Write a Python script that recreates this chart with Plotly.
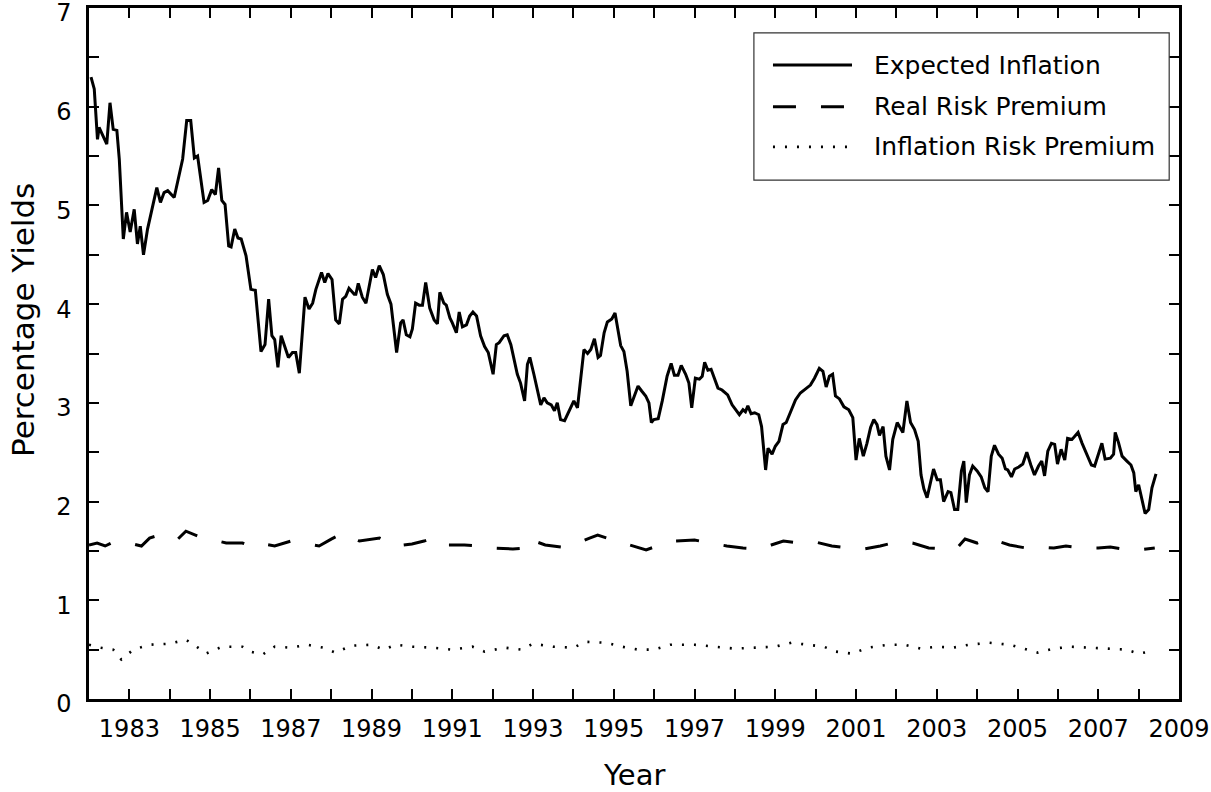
import plotly.graph_objects as go

# Expected inflation (decimal year, percent)
ei_year = [
    1982.05, 1982.13, 1982.21, 1982.25, 1982.44, 1982.52, 1982.60, 1982.69, 1982.75, 1982.85,
    1982.93, 1983.02, 1983.12, 1983.20, 1983.27, 1983.35, 1983.45, 1983.58, 1983.68, 1983.77,
    1983.86, 1983.95, 1984.11, 1984.32, 1984.42, 1984.52, 1984.61, 1984.69, 1984.85, 1984.94,
    1985.04, 1985.13, 1985.21, 1985.29, 1985.37, 1985.46, 1985.52, 1985.61, 1985.69, 1985.77,
    1985.89, 1986.01, 1986.12, 1986.26, 1986.36, 1986.45, 1986.53, 1986.60, 1986.68, 1986.76,
    1986.88, 1986.94, 1987.04, 1987.12, 1987.21, 1987.35, 1987.45, 1987.54, 1987.62, 1987.76,
    1987.84, 1987.92, 1988.02, 1988.11, 1988.20, 1988.28, 1988.36, 1988.44, 1988.57, 1988.61,
    1988.67, 1988.77, 1988.86, 1989.02, 1989.10, 1989.19, 1989.29, 1989.39, 1989.48, 1989.62,
    1989.72, 1989.78, 1989.86, 1989.95, 1990.01, 1990.09, 1990.18, 1990.26, 1990.34, 1990.44,
    1990.55, 1990.63, 1990.69, 1990.79, 1990.85, 1990.94, 1991.00, 1991.10, 1991.17, 1991.25,
    1991.35, 1991.43, 1991.51, 1991.60, 1991.70, 1991.80, 1991.89, 1992.01, 1992.09, 1992.16,
    1992.28, 1992.36, 1992.45, 1992.61, 1992.69, 1992.79, 1992.86, 1992.92, 1993.02, 1993.19,
    1993.27, 1993.35, 1993.45, 1993.53, 1993.60, 1993.68, 1993.78, 1993.89, 1994.01, 1994.10,
    1994.18, 1994.26, 1994.35, 1994.43, 1994.52, 1994.61, 1994.67, 1994.76, 1994.84, 1994.95,
    1995.03, 1995.11, 1995.17, 1995.25, 1995.33, 1995.42, 1995.50, 1995.60, 1995.69, 1995.79,
    1995.87, 1995.93, 1995.99, 1996.10, 1996.20, 1996.32, 1996.42, 1996.50, 1996.59, 1996.67,
    1996.78, 1996.86, 1996.93, 1997.02, 1997.12, 1997.19, 1997.25, 1997.33, 1997.41, 1997.48,
    1997.58, 1997.68, 1997.82, 1997.93, 1998.01, 1998.11, 1998.20, 1998.26, 1998.32, 1998.40,
    1998.49, 1998.59, 1998.66, 1998.76, 1998.82, 1998.92, 1999.00, 1999.09, 1999.19, 1999.27,
    1999.38, 1999.50, 1999.62, 1999.75, 1999.87, 1999.97, 2000.09, 2000.18, 2000.26, 2000.34,
    2000.42, 2000.49, 2000.59, 2000.70, 2000.82, 2000.92, 2001.00, 2001.08, 2001.18, 2001.27,
    2001.36, 2001.44, 2001.52, 2001.58, 2001.67, 2001.74, 2001.83, 2001.91, 2002.02, 2002.16,
    2002.26, 2002.35, 2002.45, 2002.54, 2002.61, 2002.68, 2002.76, 2002.92, 2003.01, 2003.09,
    2003.17, 2003.28, 2003.35, 2003.44, 2003.52, 2003.61, 2003.67, 2003.73, 2003.81, 2003.89,
    2004.00, 2004.10, 2004.19, 2004.27, 2004.35, 2004.43, 2004.53, 2004.62, 2004.70, 2004.76,
    2004.85, 2004.93, 2005.03, 2005.13, 2005.23, 2005.33, 2005.42, 2005.52, 2005.60, 2005.67,
    2005.75, 2005.84, 2005.92, 2005.99, 2006.08, 2006.17, 2006.24, 2006.35, 2006.50, 2006.60,
    2006.72, 2006.83, 2006.91, 2007.09, 2007.17, 2007.30, 2007.38, 2007.42, 2007.50, 2007.59,
    2007.71, 2007.81, 2007.88, 2007.93, 2008.00, 2008.16, 2008.25, 2008.33, 2008.43,
]
ei_value = [
    6.30, 6.18, 5.67, 5.79, 5.62, 6.04, 5.77, 5.76, 5.47, 4.66,
    4.93, 4.73, 4.96, 4.61, 4.79, 4.50, 4.76, 4.99, 5.18, 5.03,
    5.13, 5.15, 5.08, 5.47, 5.86, 5.86, 5.48, 5.50, 5.03, 5.05,
    5.16, 5.11, 5.38, 5.05, 5.01, 4.59, 4.58, 4.76, 4.67, 4.66,
    4.49, 4.15, 4.14, 3.52, 3.59, 4.05, 3.68, 3.64, 3.36, 3.68,
    3.54, 3.46, 3.51, 3.51, 3.30, 4.07, 3.95, 4.01, 4.15, 4.32,
    4.22, 4.31, 4.25, 3.84, 3.80, 4.05, 4.08, 4.16, 4.10, 4.10,
    4.21, 4.07, 4.01, 4.35, 4.27, 4.39, 4.30, 4.10, 4.00, 3.51,
    3.81, 3.84, 3.69, 3.67, 3.75, 4.01, 3.99, 3.99, 4.22, 3.96,
    3.84, 3.80, 4.12, 4.01, 3.99, 3.86, 3.81, 3.71, 3.92, 3.77,
    3.79, 3.88, 3.92, 3.88, 3.68, 3.57, 3.51, 3.29, 3.59, 3.61,
    3.68, 3.69, 3.59, 3.29, 3.20, 3.02, 3.39, 3.46, 3.29, 2.98,
    3.05, 3.00, 2.98, 2.92, 3.00, 2.83, 2.82, 2.91, 3.02, 2.95,
    3.24, 3.54, 3.50, 3.54, 3.65, 3.46, 3.48, 3.71, 3.82, 3.85,
    3.91, 3.74, 3.58, 3.52, 3.32, 2.97, 3.05, 3.17, 3.12, 3.07,
    3.00, 2.80, 2.83, 2.84, 3.02, 3.27, 3.40, 3.28, 3.28, 3.38,
    3.29, 3.20, 2.95, 3.25, 3.24, 3.27, 3.41, 3.33, 3.34, 3.27,
    3.15, 3.13, 3.08, 2.98, 2.93, 2.88, 2.93, 2.91, 2.97, 2.89,
    2.90, 2.88, 2.76, 2.32, 2.54, 2.48, 2.56, 2.61, 2.78, 2.80,
    2.91, 3.03, 3.10, 3.14, 3.18, 3.25, 3.35, 3.32, 3.16, 3.27,
    3.29, 3.07, 3.04, 2.96, 2.93, 2.85, 2.42, 2.64, 2.46, 2.59,
    2.75, 2.83, 2.78, 2.67, 2.76, 2.46, 2.32, 2.63, 2.80, 2.70,
    3.02, 2.80, 2.73, 2.61, 2.27, 2.13, 2.04, 2.33, 2.22, 2.22,
    2.00, 2.10, 2.09, 1.92, 1.92, 2.31, 2.41, 1.99, 2.27, 2.36,
    2.31, 2.25, 2.14, 2.10, 2.46, 2.57, 2.48, 2.44, 2.33, 2.32,
    2.25, 2.33, 2.35, 2.38, 2.50, 2.37, 2.27, 2.36, 2.41, 2.26,
    2.51, 2.59, 2.58, 2.38, 2.53, 2.42, 2.64, 2.63, 2.70, 2.59,
    2.48, 2.37, 2.36, 2.59, 2.43, 2.44, 2.48, 2.70, 2.60, 2.46,
    2.41, 2.37, 2.29, 2.10, 2.17, 1.88, 1.92, 2.14, 2.28,
]

# Real risk premium
rrp_year = [
    1982.0, 1982.2, 1982.4, 1982.6, 1983.0, 1983.3, 1983.5, 1983.8, 1984.2, 1984.4,
    1984.7, 1985.0, 1985.4, 1985.8, 1986.0, 1986.2, 1986.6, 1987.0, 1987.4, 1987.7,
    1988.0, 1988.3, 1988.7, 1989.0, 1989.2, 1989.6, 1990.0, 1990.3, 1990.5, 1990.8,
    1991.3, 1991.7, 1992.0, 1992.5, 1992.8, 1992.9, 1993.3, 1993.7, 1994.0, 1994.4,
    1994.6, 1994.9, 1995.4, 1995.8, 1996.2, 1996.5, 1997.0, 1997.4, 1997.8, 1998.2,
    1998.6, 1998.9, 1999.2, 1999.6, 2000.0, 2000.4, 2000.8, 2001.2, 2001.6, 2002.0,
    2002.4, 2002.8, 2003.2, 2003.5, 2003.7, 2004.0, 2004.3, 2004.8, 2005.2, 2005.5,
    2005.9, 2006.2, 2006.6, 2007.0, 2007.3, 2007.6, 2008.0, 2008.4,
]
rrp_value = [
    1.56, 1.58, 1.55, 1.59, 1.58, 1.55, 1.63, 1.67, 1.62, 1.70,
    1.65, 1.62, 1.58, 1.58, 1.55, 1.58, 1.55, 1.60, 1.57, 1.55,
    1.62, 1.68, 1.60, 1.62, 1.63, 1.55, 1.57, 1.60, 1.63, 1.56,
    1.56, 1.55, 1.53, 1.52, 1.53, 1.62, 1.56, 1.54, 1.56, 1.63,
    1.66, 1.62, 1.56, 1.51, 1.57, 1.60, 1.61, 1.58, 1.55, 1.53,
    1.52, 1.56, 1.60, 1.58, 1.59, 1.55, 1.53, 1.52, 1.55, 1.59,
    1.58, 1.53, 1.52, 1.53, 1.62, 1.58, 1.63, 1.56, 1.53, 1.54,
    1.53, 1.55, 1.53, 1.53, 1.54, 1.52, 1.51, 1.53,
]

# Inflation risk premium
irp_year = [
    1982.0, 1982.3, 1982.6, 1982.8, 1983.1, 1983.5, 1984.0, 1984.4, 1984.7, 1984.9,
    1985.3, 1985.8, 1986.0, 1986.3, 1986.6, 1987.0, 1987.4, 1987.8, 1988.1, 1988.5,
    1989.0, 1989.3, 1989.6, 1990.0, 1990.5, 1991.0, 1991.5, 1991.8, 1992.3, 1992.7,
    1993.0, 1993.5, 1994.0, 1994.3, 1994.8, 1995.2, 1995.6, 1996.0, 1996.4, 1997.0,
    1997.5, 1998.0, 1998.5, 1999.0, 1999.4, 1999.8, 2000.2, 2000.5, 2000.9, 2001.3,
    2001.8, 2002.2, 2002.6, 2003.0, 2003.4, 2003.8, 2004.3, 2004.8, 2005.2, 2005.5,
    2005.9, 2006.3, 2006.8, 2007.3, 2007.7, 2008.0, 2008.4,
]
irp_value = [
    0.55, 0.52, 0.50, 0.40, 0.50, 0.55, 0.56, 0.60, 0.52, 0.46,
    0.53, 0.53, 0.48, 0.45, 0.53, 0.52, 0.55, 0.52, 0.47, 0.54,
    0.55, 0.50, 0.55, 0.53, 0.52, 0.50, 0.53, 0.48, 0.52, 0.50,
    0.56, 0.53, 0.52, 0.58, 0.57, 0.53, 0.50, 0.50, 0.55, 0.55,
    0.53, 0.51, 0.52, 0.53, 0.57, 0.55, 0.53, 0.48, 0.46, 0.52,
    0.55, 0.55, 0.51, 0.53, 0.52, 0.55, 0.57, 0.55, 0.50, 0.47,
    0.51, 0.53, 0.52, 0.51, 0.50, 0.46, 0.49,
]

series_names = ["Expected Inflation", "Real Risk Premium", "Inflation Risk Premium"]
year_ticks = list(range(1983, 2010))
year_labels = [str(y) if y % 2 == 1 else "" for y in year_ticks]

FONT = "DejaVu Sans"
solid = dict(color="black", width=3)
dashed = dict(color="black", width=3, dash="23px,25px")
dotted = dict(color="black", width=2.6, dash="2px,10px")
styles = [solid, dashed, dotted]

fig = go.Figure()
for name, xs, ys, line in zip(series_names,
                              [ei_year, rrp_year, irp_year],
                              [ei_value, rrp_value, irp_value], styles):
    fig.add_trace(go.Scatter(x=xs, y=ys, mode="lines", name=name, line=line, showlegend=False))

tick_style = dict(ticks="inside", ticklen=10, tickwidth=1.5, tickcolor="black")

fig.update_layout(
    width=1211, height=792,
    margin=dict(l=89, r=32, t=8, b=93),
    plot_bgcolor="white", paper_bgcolor="white",
    font=dict(family=FONT, size=24, color="black"),
    xaxis=dict(
        range=[1982, 2009], tickvals=year_ticks, ticktext=year_labels,
        showline=True, linecolor="black", linewidth=2.5, mirror="ticks",
        showgrid=False, zeroline=False, ticklabelstandoff=6,
        automargin=False, ticklabeloverflow="allow", **tick_style,
    ),
    yaxis=dict(
        range=[0, 7], dtick=1, tick0=0,
        showline=True, linecolor="black", linewidth=2.5, mirror="ticks",
        showgrid=False, zeroline=False, ticklabelstandoff=10, ticklabelshift=5,
        automargin=False, ticklabeloverflow="allow",
        minor=dict(dtick=0.5, **tick_style), **tick_style,
    ),
)

# axis titles
fig.add_annotation(text="Year", xref="paper", yref="paper", x=0.5, y=-0.11,
                   xanchor="center", yanchor="middle", showarrow=False, font=dict(size=29))
fig.add_annotation(text="Percentage Yields", xref="paper", yref="paper", x=-0.06, y=0.548,
                   textangle=-90, xanchor="center", yanchor="middle", showarrow=False,
                   font=dict(size=31))

# legend box, drawn by hand so the line samples are long like the original
lx0, lx1, ly0, ly1 = 0.610, 0.991, 0.751, 0.964
fig.add_shape(type="rect", xref="paper", yref="paper", x0=lx0, x1=lx1, y0=ly0, y1=ly1,
              line=dict(color="#333333", width=1.2), fillcolor="white")
rows = [0.9175, 0.857, 0.799]
for name, line, ry in zip(series_names, styles, rows):
    fig.add_shape(type="line", xref="paper", yref="paper", x0=0.6275, x1=0.700, y0=ry, y1=ry,
                  line=line)
    fig.add_annotation(text=name, xref="paper", yref="paper", x=0.718, y=ry,
                       xanchor="left", yanchor="middle", showarrow=False, font=dict(size=25))

# the page body has an 8px default margin; drop it so the figure fills the window
fig.write_html("out.html", config={"displayModeBar": False},
               post_script="document.body.style.margin='0';")
